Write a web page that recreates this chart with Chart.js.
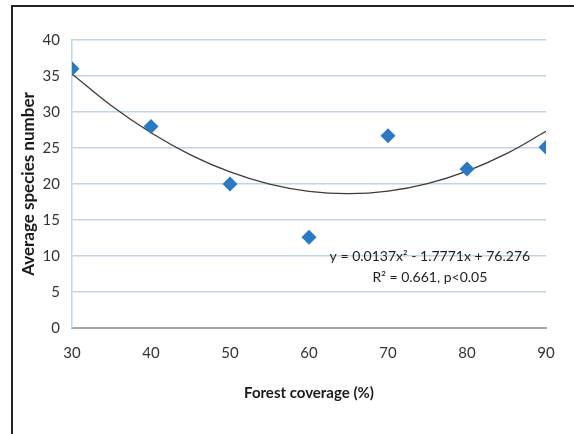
<!DOCTYPE html>
<html>
<head>
<meta charset="utf-8">
<script src="https://cdn.jsdelivr.net/npm/chart.js@4"></script>
<style>
  html, body { margin: 0; padding: 0; background: #fff; }
  #wrap { position: relative; width: 574px; height: 434px; overflow: hidden; }
  #frame { position: absolute; left: 11px; top: 5px; width: 620px; height: 480px; border: 2px solid #232323; }
  #chart { position: absolute; left: 0; top: 0; }
</style>
</head>
<body>
<div id="wrap">
  <div id="frame"></div>
  <canvas id="chart" width="574" height="434"></canvas>
</div>
<script>
// 森林覆盖率与平均物种数
const coverage = [30, 40, 50, 60, 70, 80, 90];
const speciesNumber = [36, 28, 20, 12.6, 26.7, 22.1, 25.1];

// 趋势线（二次多项式）各点取值
const trendX = [30, 35, 40, 45, 50, 55, 60, 65, 70, 75, 80, 85, 90];
const trendY = [35.29, 30.86, 27.11, 24.05, 21.67, 19.98, 18.97, 18.65, 19.01, 20.06, 21.79, 24.21, 27.31];

const xTicks = [30, 40, 50, 60, 70, 80, 90];
const yTicks = [0, 5, 10, 15, 20, 25, 30, 35, 40];

const equationLines = ['y = 0.0137x\u00b2 - 1.7771x + 76.276', 'R\u00b2 = 0.661, p<0.05'];

const fontFamily = "Lato, 'Open Sans', sans-serif";
Chart.defaults.font.family = fontFamily;
Chart.defaults.color = '#333333';

// 回归方程文字
const equationPlugin = {
    id: 'equation',
    afterDatasetsDraw(chart) {
        const ctx = chart.ctx;
        const x = chart.scales.x.getPixelForValue(75.3);
        const y1 = chart.scales.y.getPixelForValue(9.9);
        const y2 = chart.scales.y.getPixelForValue(7.0);
        ctx.save();
        ctx.font = '14px ' + fontFamily;
        ctx.fillStyle = '#1e1e1e';
        ctx.textAlign = 'center';
        ctx.textBaseline = 'middle';
        ctx.fillText(equationLines[0], x, y1);
        ctx.fillText(equationLines[1], x, y2);
        ctx.restore();
    }
};

const ctx = document.getElementById('chart').getContext('2d');
const chart = new Chart(ctx, {
    type: 'scatter',
    data: {
        datasets: [{
            label: 'Average species number',
            data: coverage.map((c, i) => ({ x: c, y: speciesNumber[i] })),
            backgroundColor: '#2a79c4',
            borderWidth: 0,
            pointStyle: 'rectRot',
            pointRadius: 7.5,
            pointHoverRadius: 7.5,
            order: 1
        }, {
            type: 'line',
            label: 'Poly. trend',
            data: trendX.map((t, i) => ({ x: t, y: trendY[i] })),
            borderColor: '#3c3c3c',
            borderWidth: 1.3,
            pointRadius: 0,
            tension: 0.4,
            fill: false,
            order: 2
        }]
    },
    options: {
        responsive: false,
        animation: false,
        layout: {
            padding: { top: 40, right: 28, left: 0, bottom: 0 }
        },
        plugins: {
            legend: { display: false },
            tooltip: { enabled: false }
        },
        scales: {
            x: {
                type: 'linear',
                min: 30,
                max: 90,
                afterBuildTicks: (scale) => { scale.ticks = xTicks.map(v => ({ value: v })); },
                afterFit: (scale) => { scale.height = 106; },
                grid: { display: false, drawTicks: false },
                border: { display: true, color: '#a6a6a6', width: 2 },
                ticks: { padding: 16, font: { size: 15 }, color: '#333333' },
                title: {
                    display: true,
                    text: 'Forest coverage (%)',
                    font: { size: 15, weight: 'bold' },
                    color: '#1a1a1a',
                    padding: { top: 32, bottom: 32 }
                }
            },
            y: {
                min: 0,
                max: 40,
                afterBuildTicks: (scale) => { scale.ticks = yTicks.map(v => ({ value: v })); },
                afterFit: (scale) => { scale.width = 72; },
                grid: {
                    color: (c) => c.tick && c.tick.value === 0 ? 'rgba(0,0,0,0)' : '#c3d3e2',
                    lineWidth: 1.5,
                    drawTicks: false
                },
                border: { display: true, color: '#c3d3e2', width: 1.5 },
                ticks: { padding: 12, font: { size: 15 }, color: '#333333' },
                title: {
                    display: true,
                    text: 'Average species number',
                    font: { size: 17, weight: 'bold' },
                    color: '#1a1a1a',
                    padding: { top: 18, bottom: 18 }
                }
            }
        }
    },
    plugins: [equationPlugin]
});
</script>
</body>
</html>
